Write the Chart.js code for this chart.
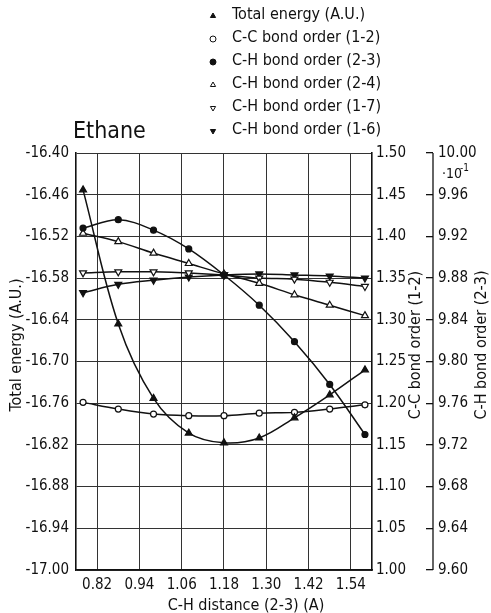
<!DOCTYPE html>
<html>
<head>
<meta charset="utf-8">
<title>Ethane</title>
<script src="https://cdn.jsdelivr.net/npm/chart.js@4.4.0/dist/chart.umd.min.js"></script>
<style>
  html, body { margin: 0; padding: 0; background: #fff; }
  #wrap { position: relative; width: 491px; height: 613px; }
</style>
</head>
<body>
<div id="wrap"><canvas id="myChart" width="491" height="613"></canvas></div>
<script>
// C-H distance (2-3) in A
const distances = [0.78, 0.88, 0.98, 1.08, 1.18, 1.28, 1.38, 1.48, 1.58];
// total energy, A.U. (left axis)
const totalEnergy = [-16.453, -16.646, -16.753, -16.803, -16.817, -16.810, -16.781, -16.748, -16.712];
// C-C bond order (1-2), middle axis
const ccOrder12 = [1.201, 1.193, 1.187, 1.185, 1.185, 1.188, 1.189, 1.193, 1.198];
// C-H bond orders, x10^-1 (outer right axis)
const chOrder23 = [9.928, 9.936, 9.926, 9.908, 9.883, 9.854, 9.819, 9.778, 9.730];
const chOrder24 = [9.923, 9.915, 9.904, 9.894, 9.884, 9.875, 9.864, 9.854, 9.844];
const chOrder17 = [9.885, 9.886, 9.886, 9.885, 9.883, 9.880, 9.879, 9.876, 9.872];
const chOrder16 = [9.866, 9.874, 9.878, 9.881, 9.883, 9.884, 9.883, 9.882, 9.880];

// tick labels
const xTicks = [0.82, 0.94, 1.06, 1.18, 1.30, 1.42, 1.54];
const energyTicks = [-17.00, -16.94, -16.88, -16.82, -16.76, -16.70, -16.64, -16.58, -16.52, -16.46, -16.40];
const ccTicks = [1.00, 1.05, 1.10, 1.15, 1.20, 1.25, 1.30, 1.35, 1.40, 1.45, 1.50];
const chTicks = [9.60, 9.64, 9.68, 9.72, 9.76, 9.80, 9.84, 9.88, 9.92, 9.96, 10.00];

const FONT = '"Liberation Sans Narrow", "DejaVu Sans Condensed", "Liberation Sans", sans-serif';
const INK = '#111';

function pts(values) {
  return distances.map((d, i) => ({ x: d, y: values[i] }));
}

function series(label, values, axis, style, filled, rot) {
  return {
    label: label,
    data: pts(values),
    yAxisID: axis,
    borderColor: INK,
    borderWidth: 1.5,
    tension: 0.35,
    fill: false,
    pointStyle: style,
    pointRotation: rot || 0,
    pointRadius: style == 'circle' ? 3 : 4,
    pointBorderWidth: 1.2,
    pointBorderColor: INK,
    pointBackgroundColor: filled ? INK : '#fff'
  };
}

function fixedTicks(list) {
  return function (scale) { scale.ticks = list.map(v => ({ value: v })); };
}

// titles, legend and the outer axis line
const extras = {
  id: 'extras',
  afterDraw(chart) {
    const ctx = chart.ctx;
    ctx.save();
    ctx.fillStyle = INK;
    ctx.strokeStyle = INK;

    // outer right axis line, ticks point to the left of it
    const ch = chart.scales.yCH;
    const lx = ch.left + 7;
    ctx.lineWidth = 1.3;
    ctx.beginPath();
    ctx.moveTo(lx, ch.getPixelForValue(10.00));
    ctx.lineTo(lx, ch.getPixelForValue(9.60));
    ctx.stroke();

    // "Ethane"
    ctx.font = '23px ' + FONT;
    ctx.textAlign = 'left';
    ctx.textBaseline = 'alphabetic';
    ctx.fillText('Ethane', 73, 138);

    // .10^-1 under 10.00
    ctx.font = '14px ' + FONT;
    ctx.fillText('\u00b710', 442, 178);
    ctx.font = '10px ' + FONT;
    ctx.fillText('-1', 460, 171);

    // axis titles
    ctx.font = '16px ' + FONT;
    ctx.textAlign = 'center';
    ctx.textBaseline = 'middle';
    const midY = 345;
    [['Total energy (A.U.)', 17], ['C-C bond order (1-2)', 416], ['C-H bond order (2-3)', 482]].forEach(t => {
      ctx.save();
      ctx.translate(t[1], midY);
      ctx.rotate(-Math.PI / 2);
      ctx.fillText(t[0], 0, 0);
      ctx.restore();
    });
    ctx.textBaseline = 'alphabetic';
    ctx.fillText('C-H distance (2-3) (A)', 246, 610);

    // legend
    ctx.font = '16px ' + FONT;
    ctx.textAlign = 'left';
    ctx.textBaseline = 'middle';
    chart.data.datasets.forEach((ds, i) => {
      const y = 15 + i * 23;
      ctx.fillStyle = ds.pointBackgroundColor;
      ctx.strokeStyle = INK;
      ctx.lineWidth = 1;
      Chart.helpers.drawPoint(ctx, {
        pointStyle: ds.pointStyle,
        rotation: ds.pointRotation,
        radius: 3,
        borderWidth: 1
      }, 213, y + 1);
      ctx.fillStyle = INK;
      ctx.fillText(ds.label, 232, y);
    });
    ctx.restore();
  }
};

const tickFont = { family: FONT, size: 15 };

const ctx = document.getElementById('myChart').getContext('2d');
const chart = new Chart(ctx, {
  type: 'line',
  data: {
    datasets: [
      series('Total energy (A.U.)', totalEnergy, 'yE', 'triangle', true),
      series('C-C bond order (1-2)', ccOrder12, 'yCC', 'circle', false),
      series('C-H bond order (2-3)', chOrder23, 'yCH', 'circle', true),
      series('C-H bond order (2-4)', chOrder24, 'yCH', 'triangle', false),
      series('C-H bond order (1-7)', chOrder17, 'yCH', 'triangle', false, 180),
      series('C-H bond order (1-6)', chOrder16, 'yCH', 'triangle', true, 180)
    ]
  },
  options: {
    responsive: false,
    animation: false,
    devicePixelRatio: 1,
    layout: { padding: { top: 153, left: 0, right: 0, bottom: 0 } },
    plugins: {
      legend: { display: false },
      tooltip: { enabled: false }
    },
    scales: {
      x: {
        type: 'linear',
        min: 0.76,
        max: 1.60,
        afterBuildTicks: fixedTicks(xTicks),
        afterFit: s => { s.height = 43; },
        ticks: { callback: v => v.toFixed(2), font: tickFont, color: INK, padding: 6, maxRotation: 0, autoSkip: false },
        grid: { color: '#333', lineWidth: 1, drawTicks: false },
        border: { display: true, color: INK, width: 1.6 }
      },
      yE: {
        position: 'left',
        min: -17.00,
        max: -16.40,
        afterBuildTicks: fixedTicks(energyTicks),
        afterFit: s => { s.width = 76; },
        ticks: { callback: v => v.toFixed(2), font: tickFont, color: INK, padding: 7, autoSkip: false },
        grid: { color: '#333', lineWidth: 1, drawTicks: false },
        border: { display: true, color: INK, width: 1.6 }
      },
      yCC: {
        position: 'right',
        min: 1.00,
        max: 1.50,
        afterBuildTicks: fixedTicks(ccTicks),
        afterFit: s => { s.width = 54; },
        ticks: { callback: v => v.toFixed(2), font: tickFont, color: INK, padding: 4, autoSkip: false },
        grid: { drawOnChartArea: false, drawTicks: false },
        border: { display: true, color: INK, width: 1.6 }
      },
      yCH: {
        position: 'right',
        min: 9.60,
        max: 10.00,
        afterBuildTicks: fixedTicks(chTicks),
        afterFit: s => { s.width = 65; },
        ticks: { callback: v => v.toFixed(2), font: tickFont, color: INK, padding: 5, autoSkip: false },
        grid: { drawOnChartArea: false, drawTicks: true, tickLength: 7, color: INK, lineWidth: 1.3 },
        border: { display: false }
      }
    }
  },
  plugins: [extras]
});
</script>
</body>
</html>
